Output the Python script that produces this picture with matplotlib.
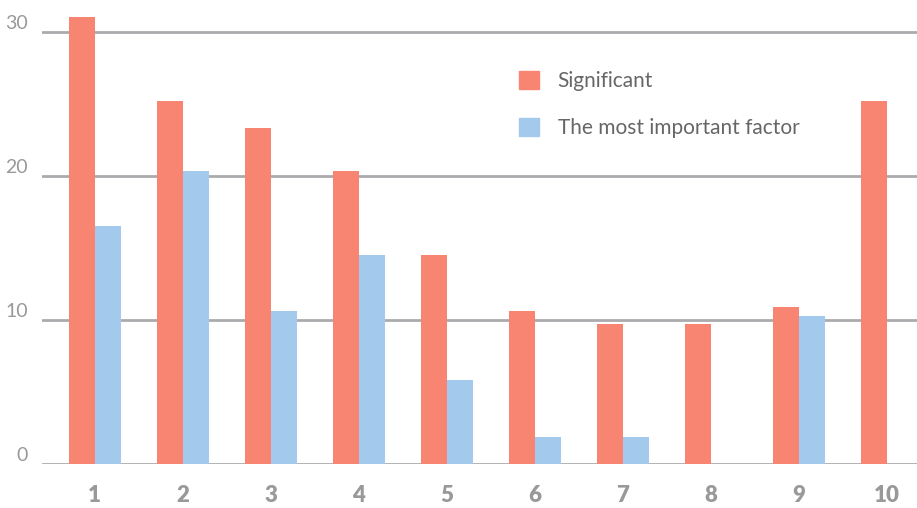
import numpy as np
import matplotlib.pyplot as plt
from matplotlib.patches import Patch

categories = ['1', '2', '3', '4', '5', '6', '7', '8', '9', '10']
significant = [31.0, 25.2, 23.3, 20.3, 14.5, 10.6, 9.7, 9.7, 10.9, 25.2]
most_important = [16.5, 20.3, 10.6, 14.5, 5.8, 1.9, 1.9, 0, 10.3, 0]
y_ticks = [0, 10, 20, 30]

red = '#F88572'
blue = '#A3C9EC'
grey = '#999999'

plt.rcParams['font.family'] = ['Lato', 'DejaVu Sans']

fig = plt.figure(figsize=(9.17, 5.08), dpi=100)
ax = fig.add_axes([42 / 917, 44 / 508, 875 / 917, 464 / 508])

x = np.arange(len(categories))
w = 0.295
ax.bar(x - w / 2, significant, w, color=red, zorder=3)
ax.bar(x + w / 2, most_important, w, color=blue, zorder=3)

ax.set_xlim(-0.6, 9.34)
ax.set_ylim(0, 32.2)

for v in y_ticks:
    ax.axhline(v, color='#ABABAF', lw=2, zorder=1)

ax.set_yticks(y_ticks)
ax.set_yticklabels([str(v) for v in y_ticks], color=grey, fontsize=14, va='bottom')
ax.set_xticks(x)
ax.set_xticklabels(categories, color=grey, fontsize=16, fontweight='heavy')
ax.tick_params(axis='y', length=0, pad=10)
ax.tick_params(axis='x', length=0, pad=15)
for s in ax.spines.values():
    s.set_visible(False)

handles = [Patch(color=red, label='Significant'),
           Patch(color=blue, label='The most important factor')]
leg = ax.legend(handles=handles, loc='upper left', bbox_to_anchor=(477 / 875, 1 - 71 / 464),
                frameon=False, fontsize=15, handlelength=0.95, handleheight=0.95,
                labelspacing=1.28, handletextpad=0.9, borderpad=0, borderaxespad=0)
for t in leg.get_texts():
    t.set_color('#666666')

fig.savefig('out.png', dpi=100)
